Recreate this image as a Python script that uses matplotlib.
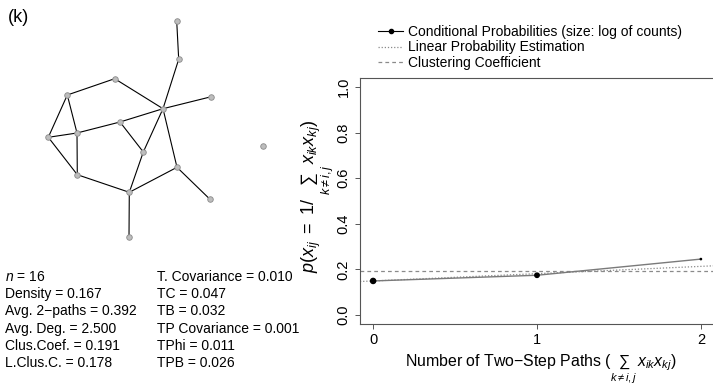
import numpy as np
import matplotlib
matplotlib.use("Agg")
import matplotlib.pyplot as plt
from matplotlib.lines import Line2D

plt.rcParams['font.family'] = ['Liberation Sans', 'DejaVu Sans']
plt.rcParams['mathtext.fontset'] = 'custom'
plt.rcParams['mathtext.rm'] = 'Liberation Sans'
plt.rcParams['mathtext.it'] = 'Liberation Sans:italic'
plt.rcParams['mathtext.bf'] = 'Liberation Sans:bold'

# network layout (16 nodes, last one isolated)
node_names = list("ABCDEFGHIJKLMNOP")
layout_x = [176.7, 178.7, 114.7, 67.3, 211.3, 163.0, 120.0, 48.3,
            77.0, 143.3, 177.0, 77.3, 129.3, 210.0, 129.0, 263.3]
layout_y = [21.0, 59.3, 78.7, 95.0, 96.7, 108.7, 122.0, 137.3,
            133.0, 152.0, 167.3, 174.7, 192.3, 199.3, 236.7, 146.0]
edges = [("A", "B"), ("B", "F"), ("C", "D"), ("C", "F"), ("F", "E"),
         ("D", "I"), ("D", "H"), ("H", "I"), ("I", "G"), ("G", "F"),
         ("H", "L"), ("I", "L"), ("G", "J"), ("F", "J"), ("J", "M"),
         ("F", "K"), ("K", "M"), ("K", "N"), ("L", "M"), ("M", "O")]

stats_left = [r"$n$ = 16", "Density = 0.167", "Avg. 2\u2212paths = 0.392",
              "Avg. Deg. = 2.500", "Clus.Coef. = 0.191", "L.Clus.C. = 0.178"]
stats_right = ["T. Covariance = 0.010", "TC = 0.047", "TB = 0.032",
               "TP Covariance = 0.001", "TPhi = 0.011", "TPB = 0.026"]

# conditional probability of a tie given number of two-step paths
two_paths = [0, 1, 2]
cond_prob = [0.149, 0.174, 0.245]
pair_counts = [76, 41, 3]
lpm_intercept = 0.149
lpm_slope = 0.032
clus_coef = 0.191

W, H = 713, 389
fig = plt.figure(figsize=(W / 100, H / 100), dpi=100)

# --- network panel ---
axn = fig.add_axes([0, 0, 1, 1])
axn.set_xlim(0, W)
axn.set_ylim(H, 0)
axn.axis('off')
idx = {nm: i for i, nm in enumerate(node_names)}
for a, b in edges:
    i, j = idx[a], idx[b]
    axn.plot([layout_x[i], layout_x[j]], [layout_y[i], layout_y[j]],
             color='black', lw=0.8, zorder=1)
axn.scatter(layout_x, layout_y, s=16, c='#bdbdbd', edgecolors='#8a8a8a',
            linewidths=0.6, zorder=2)

fig.text(8 / W, 1 - 17 / H, "(k)", fontsize=13, va='center', ha='left')

for k, (l, r) in enumerate(zip(stats_left, stats_right)):
    yy = 1 - (277 + k * 17.2) / H
    fig.text(5 / W, yy, l, fontsize=10, va='center', ha='left')
    fig.text(157 / W, yy, r, fontsize=10, va='center', ha='left')

# --- conditional probability panel ---
ax = fig.add_axes([360 / W, 65 / H, 354 / W, 246 / H])
ax.plot(two_paths, cond_prob, color='#7a7a7a', lw=1.0, zorder=3)
ax.scatter(two_paths, cond_prob, s=(0.85 * np.log(pair_counts)) ** 2,
           c='black', zorder=4)
ax.axline((0, lpm_intercept), slope=lpm_slope, color='#8a8a8a', lw=0.9,
          ls=(0, (1, 1.5)), zorder=2)
ax.axhline(clus_coef, color='#8a8a8a', lw=0.9, ls=(0, (3, 2.5)), zorder=2)

ax.set_xlim(-0.08, 2.08)
ax.set_ylim(-0.04, 1.04)
ax.set_xticks([0, 1, 2])
ax.set_yticks([0, 0.2, 0.4, 0.6, 0.8, 1.0])
ax.set_yticklabels(["0.0", "0.2", "0.4", "0.6", "0.8", "1.0"],
                   rotation=90, va='center')
ax.tick_params(direction='out', length=3.6, width=0.7, color='#555555',
               labelsize=10.5)
ax.tick_params(axis='y', pad=3)
ax.tick_params(axis='x', pad=3)
for s in ax.spines.values():
    s.set_color('#555555')
    s.set_linewidth(0.8)

ax.set_xlabel(r"Number of Two$-$Step Paths ($\sum_{k \neq i,j}\, x_{ik}x_{kj}$)",
              fontsize=11.4)
ax.xaxis.set_label_coords(0.51, -0.118)
ax.set_ylabel(r"$p(x_{ij}\ =\ 1/\ \sum_{k \neq i,j}\, x_{ik}x_{kj})$",
              fontsize=13)
ax.yaxis.set_label_coords(-0.068, 0.52)

handles = [
    Line2D([], [], color='black', lw=0.8, marker='o', markersize=3),
    Line2D([], [], color='#8a8a8a', lw=0.9, ls=(0, (1, 1.5))),
    Line2D([], [], color='#8a8a8a', lw=0.9, ls=(0, (3, 2.5))),
]
labels = ["Conditional Probabilities (size: log of counts)",
          "Linear Probability Estimation", "Clustering Coefficient"]
fig.legend(handles, labels, loc='upper left',
           bbox_to_anchor=(378 / W, 1 - 25 / H), frameon=False,
           fontsize=10, handlelength=1.8, handletextpad=0.35,
           labelspacing=0.1, borderpad=0, borderaxespad=0)

fig.savefig("out.png", dpi=100)
